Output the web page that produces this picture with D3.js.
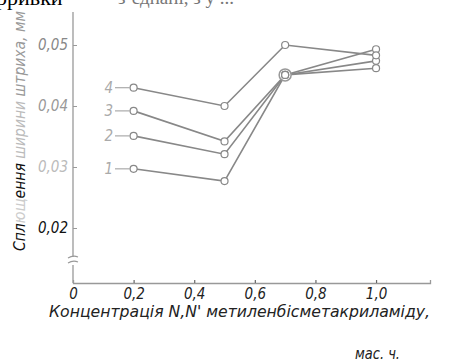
<!DOCTYPE html>
<html>
<head>
<meta charset="utf-8">
<script src="https://cdn.jsdelivr.net/npm/d3@7"></script>
<style>
  body { margin: 0; background: #fff; }
  svg { display: block; }
  .tick text { font-family: 'Liberation Sans Narrow', 'DejaVu Sans Condensed', sans-serif; font-style: italic; font-size: 15px; }
  .lbl { font-family: 'Liberation Sans Narrow', 'DejaVu Sans Condensed', sans-serif; font-style: italic; }
</style>
</head>
<body>
<svg></svg>
<script>
// concentration, wt. parts
var conc = [0.2, 0.5, 0.7, 1.0]
var seriesNames = ['1', '2', '3', '4']
var s1 = [0.0297, 0.0277, 0.0451, 0.0462]
var s2 = [0.0351, 0.0321, 0.0451, 0.0474]
var s3 = [0.0392, 0.0342, 0.0451, 0.0493]
var s4 = [0.0430, 0.0400, 0.0500, 0.0483]
var xTicks = [0, 0.2, 0.4, 0.6, 0.8, 1.0]
var yTicks = [0.02, 0.03, 0.04, 0.05]
var yTickColors = ['#111', '#bbb', '#999', '#888']

var width = 451
var height = 363
var svg = d3.select('svg').attr('width', width).attr('height', height)

var xScale = d3.scaleLinear().domain([0, 1.178]).range([73, 430])
var yScale = d3.scaleLinear().domain([0.02, 0.05]).range([228, 45])
var xAxisY = 283

// cut-off text from the page above
svg.append('text')
    .attr('x', -4).attr('y', 5)
    .style('font-family', 'Liberation Serif, serif').style('font-size', '22px')
    .text('рривки')
svg.append('text')
    .attr('x', 118).attr('y', 4)
    .style('font-family', 'Liberation Serif, serif').style('font-size', '19px')
    .attr('fill', '#777')
    .text('з’єднані,  з   у  ...')

// y axis line with break
var ax = svg.append('g').attr('stroke', '#999').attr('fill', 'none')
ax.append('line').attr('x1', 73).attr('x2', 73).attr('y1', 12).attr('y2', 257).attr('stroke-width', 1.3)
ax.append('line').attr('x1', 73).attr('x2', 73).attr('y1', 265).attr('y2', xAxisY).attr('stroke-width', 1.3)
ax.append('path').attr('d', 'M68,258 Q73,255 78,257 M68,263 Q73,260 78,262').attr('stroke-width', 1.2)

var yAxis = d3.axisLeft(yScale)
    .tickValues(yTicks)
    .tickSize(4)
    .tickPadding(5)
    .tickFormat(d => d3.format('.2f')(d).replace('.', ','))

var yg = svg.append('g')
    .attr('transform', 'translate(77,0)')
    .call(yAxis)
yg.select('.domain').remove()
yg.selectAll('.tick line').attr('stroke', '#999')
yg.selectAll('.tick text').attr('fill', (d, i) => yTickColors[i])

// x axis
var xAxis = d3.axisBottom(xScale)
    .tickValues(xTicks)
    .tickSize(-3)
    .tickPadding(5)
    .tickFormat(d => d === 0 ? '0' : d3.format('.1f')(d).replace('.', ','))

var xg = svg.append('g')
    .attr('transform', 'translate(0,' + xAxisY + ')')
    .call(xAxis)
xg.select('.domain').attr('stroke', '#999').attr('stroke-width', 1.3)
xg.selectAll('.tick line').attr('stroke', '#666').attr('stroke-width', 1.2)
xg.selectAll('.tick').filter(d => d === 0).select('line').remove()
xg.selectAll('.tick text').attr('fill', '#222')

// x label
svg.append('text').classed('lbl', true)
    .attr('x', 49).attr('y', 317)
    .attr('textLength', 381).attr('lengthAdjust', 'spacingAndGlyphs')
    .style('font-size', '15px').attr('fill', '#222')
    .text('Концентрація N,N\' метиленбісметакриламіду,')
svg.append('text').classed('lbl', true)
    .attr('x', 355).attr('y', 359)
    .attr('textLength', 45).attr('lengthAdjust', 'spacingAndGlyphs')
    .style('font-size', '15px').attr('fill', '#222')
    .text('мас. ч.')

// y label
var yl = svg.append('text').classed('lbl', true)
    .attr('transform', 'translate(25,251) rotate(-90)')
    .attr('textLength', 240).attr('lengthAdjust', 'spacingAndGlyphs')
    .style('font-size', '15px')
yl.append('tspan').attr('fill', '#111').text('Спл')
yl.append('tspan').attr('fill', '#ccc').text('ющ')
yl.append('tspan').attr('fill', '#111').text('ення ')
yl.append('tspan').attr('fill', '#bbb').text('ширини ')
yl.append('tspan').attr('fill', '#999').text('штриха, мм')

// series
var allSeries = [s1, s2, s3, s4]
var line = d3.line()
    .x((d, i) => xScale(conc[i]))
    .y(d => yScale(d))

svg.selectAll('.series')
    .data(allSeries)
    .enter()
    .append('path')
        .attr('d', d => line(d))
        .attr('fill', 'none')
        .attr('stroke', '#888')
        .attr('stroke-width', 1.6)

// junction ring at 0.7
svg.append('circle')
    .attr('cx', xScale(conc[2])).attr('cy', yScale(s1[2]))
    .attr('r', 6).attr('fill', '#fff').attr('stroke', '#999').attr('stroke-width', 1.5)

allSeries.forEach(function (s) {
    svg.append('g').selectAll('circle')
        .data(s)
        .enter()
        .append('circle')
            .attr('cx', (d, i) => xScale(conc[i]))
            .attr('cy', d => yScale(d))
            .attr('r', 3.5)
            .attr('fill', '#fff')
            .attr('stroke', '#888')
            .attr('stroke-width', 1.2)
})

// series labels "1—" etc.
allSeries.forEach(function (s, k) {
    var y0 = yScale(s[0])
    svg.append('text').classed('lbl', true)
        .attr('x', 113).attr('y', y0 + 5)
        .attr('text-anchor', 'end')
        .style('font-size', '15px').attr('fill', '#aaa')
        .text(seriesNames[k])
    svg.append('line')
        .attr('x1', 115).attr('x2', xScale(conc[0]) - 3.5)
        .attr('y1', y0).attr('y2', y0)
        .attr('stroke', '#aaa').attr('stroke-width', 1.2)
})
</script>
</body>
</html>
